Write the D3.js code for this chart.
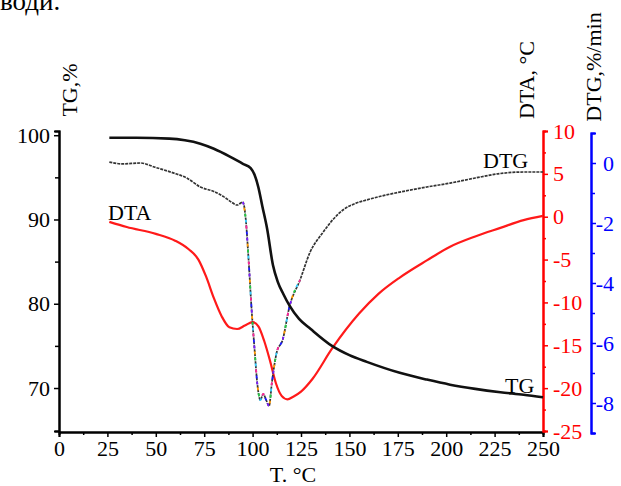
<!DOCTYPE html>
<html>
<head>
<meta charset="utf-8">
<script src="https://cdn.jsdelivr.net/npm/d3@7"></script>
<style>
  body { margin: 0; background: #fff; }
  svg text { font-family: "Liberation Serif", "DejaVu Serif", serif; }
</style>
</head>
<body>
<script>
// Temperature axis ticks and curve data
var tempTicks = [0, 25, 50, 75, 100, 125, 150, 175, 200, 225, 250];
var tgTicks = [70, 80, 90, 100];
var dtaTicks = [-25, -20, -15, -10, -5, 0, 5, 10];
var dtgTicks = [-8, -6, -4, -2, 0];

// TG, %  (temperature, value)
var tgTemp = [26, 40, 57, 65, 73, 80, 88, 95, 99, 101, 103, 105, 107.5, 110.5, 113, 116, 119, 124, 130, 141, 150, 159, 176, 190, 202, 215, 228, 240, 250];
var tgVal = [99.7, 99.7, 99.6, 99.4, 99.0, 98.4, 97.5, 96.6, 96.1, 95.3, 93.8, 91.6, 88.9, 84.6, 82.6, 81.1, 79.8, 78.2, 77.0, 75.0, 73.9, 73.1, 71.8, 71.0, 70.4, 69.9, 69.5, 69.2, 68.9];

// DTA, °C
var dtaTemp = [26, 35, 50, 60, 67, 72, 76, 80, 84, 88, 92, 96, 100, 103, 106, 109, 112, 115, 118, 121, 125, 131, 141, 155, 165, 176, 190, 202, 215, 228, 240, 250];
var dtaVal = [-0.6, -1.2, -2.0, -2.8, -3.8, -5.0, -7.0, -9.5, -11.6, -12.9, -13.1, -12.7, -12.3, -12.8, -14.5, -16.8, -19.4, -20.9, -21.3, -21.0, -20.4, -18.9, -15.4, -11.3, -9.0, -7.1, -5.1, -3.5, -2.3, -1.3, -0.4, 0.1];

// DTG, %/min
var dtgTemp = [26, 33, 42, 50, 59, 66, 73, 80, 85, 89, 92, 95, 96.5, 98, 99.5, 101, 102.5, 104, 105.5, 107, 108.5, 110, 112.5, 115.5, 119, 124.5, 129.5, 136.5, 142, 147, 153, 159, 168, 176, 190, 202, 215, 228, 240, 250];
var dtgVal = [0.03, -0.03, 0.0, -0.15, -0.33, -0.5, -0.8, -0.95, -1.12, -1.3, -1.4, -1.3, -1.9, -3.3, -4.9, -6.2, -7.4, -7.9, -7.7, -7.9, -8.1, -7.3, -6.3, -5.9, -4.8, -3.9, -3.0, -2.3, -1.85, -1.55, -1.35, -1.23, -1.08, -0.97, -0.8, -0.67, -0.5, -0.35, -0.3, -0.3];

var svgWidth = 621;
var svgHeight = 486;

var svg = d3.select("body")
  .append("svg")
  .attr("width", svgWidth)
  .attr("height", svgHeight);

// scales
var xScale = d3.scaleLinear().domain([0, 250]).range([59, 543]);
var yTG = d3.scaleLinear().domain([64.9, 100.5]).range([431, 131]);
var yDTA = d3.scaleLinear().domain([-25, 10]).range([431, 131]);
var yDTG = d3.scaleLinear().domain([-9, 1]).range([433, 133]);

// plain hyphen minus like the original
var fmt = d => String(d);

// stray text from the source page, cut by the top edge
svg.append("text")
  .attr("x", 0)
  .attr("y", 10)
  .attr("font-size", 27)
  .text("води.");

function styleAxis(g, color) {
  g.attr("font-family", null);
  g.selectAll("path").attr("stroke", color).attr("stroke-width", 2);
  g.selectAll("line").attr("stroke", color).attr("stroke-width", 1.5);
  g.selectAll("text")
    .attr("fill", color)
    .style("font-family", "'Liberation Serif', serif")
    .style("font-size", "22px");
}

// bottom axis
var xMinor = d3.range(12.5, 250, 25);
svg.append("g")
  .attr("transform", "translate(0,432)")
  .call(d3.axisBottom(xScale).tickValues(xMinor).tickSize(3).tickFormat(""))
  .call(g => styleAxis(g, "#000"));
svg.append("g")
  .attr("transform", "translate(0,432)")
  .call(d3.axisBottom(xScale).tickValues(tempTicks).tickSize(5).tickPadding(3).tickFormat(fmt))
  .call(g => styleAxis(g, "#000"));

// left axis (TG)
svg.append("g")
  .attr("transform", "translate(59,0)")
  .call(d3.axisLeft(yTG).tickValues([75, 85, 95]).tickSize(4).tickFormat(""))
  .call(g => styleAxis(g, "#000"));
svg.append("g")
  .attr("transform", "translate(59,0)")
  .call(d3.axisLeft(yTG).tickValues(tgTicks).tickSize(5).tickPadding(4).tickFormat(fmt))
  .call(g => styleAxis(g, "#000"));

// right axis (DTA)
svg.append("g")
  .attr("transform", "translate(543,0)")
  .call(d3.axisRight(yDTA).tickValues(d3.range(-22.5, 10, 5)).tickSize(3).tickFormat(""))
  .call(g => styleAxis(g, "#ff0000"));
svg.append("g")
  .attr("transform", "translate(543,0)")
  .call(d3.axisRight(yDTA).tickValues(dtaTicks).tickSize(5).tickPadding(5).tickFormat(fmt))
  .call(g => styleAxis(g, "#ff0000"));

// far right axis (DTG), labels right-aligned
svg.append("g")
  .attr("transform", "translate(591,0)")
  .call(d3.axisRight(yDTG).tickValues([-9, -7, -5, -3, -1]).tickSize(4).tickFormat(""))
  .call(g => styleAxis(g, "#0000ff"));
svg.append("g")
  .attr("transform", "translate(591,0)")
  .call(d3.axisRight(yDTG).tickValues(dtgTicks).tickSize(5).tickPadding(2).tickFormat(fmt))
  .call(g => styleAxis(g, "#0000ff"))
  .call(g => g.selectAll("text").attr("text-anchor", "end").attr("x", 23));

// axis titles
svg.append("text")
  .attr("transform", "translate(77,90) rotate(-90)")
  .attr("text-anchor", "middle")
  .attr("font-size", 22)
  .text("TG,%");
svg.append("text")
  .attr("transform", "translate(534,80) rotate(-90)")
  .attr("text-anchor", "middle")
  .attr("font-size", 22)
  .text("DTA, °C");
svg.append("text")
  .attr("transform", "translate(601,67) rotate(-90)")
  .attr("text-anchor", "middle")
  .attr("font-size", 22)
  .text("DTG,%/min");
svg.append("text")
  .attr("x", 293)
  .attr("y", 482)
  .attr("text-anchor", "middle")
  .attr("font-size", 22)
  .text("T. °C");

// curves
var dtaLine = d3.line()
  .x((d, i) => xScale(dtaTemp[i]))
  .y(d => yDTA(d))
  .curve(d3.curveMonotoneX);
svg.append("path")
  .datum(dtaVal)
  .attr("d", dtaLine)
  .attr("fill", "none")
  .attr("stroke", "#ff1a1a")
  .attr("stroke-width", 2.2);

var dtgLine = d3.line()
  .x(d => xScale(d.t))
  .y(d => yDTG(d.v))
  .curve(d3.curveMonotoneX);
var dtgData = dtgTemp.map((t, i) => ({ t: t, v: dtgVal[i] }));
svg.append("path")
  .datum(dtgData)
  .attr("d", dtgLine)
  .attr("fill", "none")
  .attr("stroke", "#333")
  .attr("stroke-width", 1.7)
  .attr("stroke-dasharray", "3,1");

// multicoloured dashes on the steep part of DTG
var steep = dtgData.filter(d => d.t >= 95 && d.t <= 125);
var dashColors = ["#7a1aff", "#ff9900", "#22cc44", "#33ccff", "#ff2299", "#1a1aff"];
dashColors.forEach(function (c, i) {
  svg.append("path")
    .datum(steep)
    .attr("d", dtgLine)
    .attr("fill", "none")
    .attr("stroke", c)
    .attr("stroke-width", 1.8)
    .attr("stroke-dasharray", "3,33")
    .attr("stroke-dashoffset", -i * 6);
});

var tgLine = d3.line()
  .x((d, i) => xScale(tgTemp[i]))
  .y(d => yTG(d))
  .curve(d3.curveMonotoneX);
svg.append("path")
  .datum(tgVal)
  .attr("d", tgLine)
  .attr("fill", "none")
  .attr("stroke", "#111")
  .attr("stroke-width", 2.6);

// curve labels
svg.append("text").attr("x", 483).attr("y", 168).attr("font-size", 22).text("DTG");
svg.append("text").attr("x", 108).attr("y", 220).attr("font-size", 22).text("DTA");
svg.append("text").attr("x", 505).attr("y", 393).attr("font-size", 22).text("TG");
</script>
</body>
</html>
